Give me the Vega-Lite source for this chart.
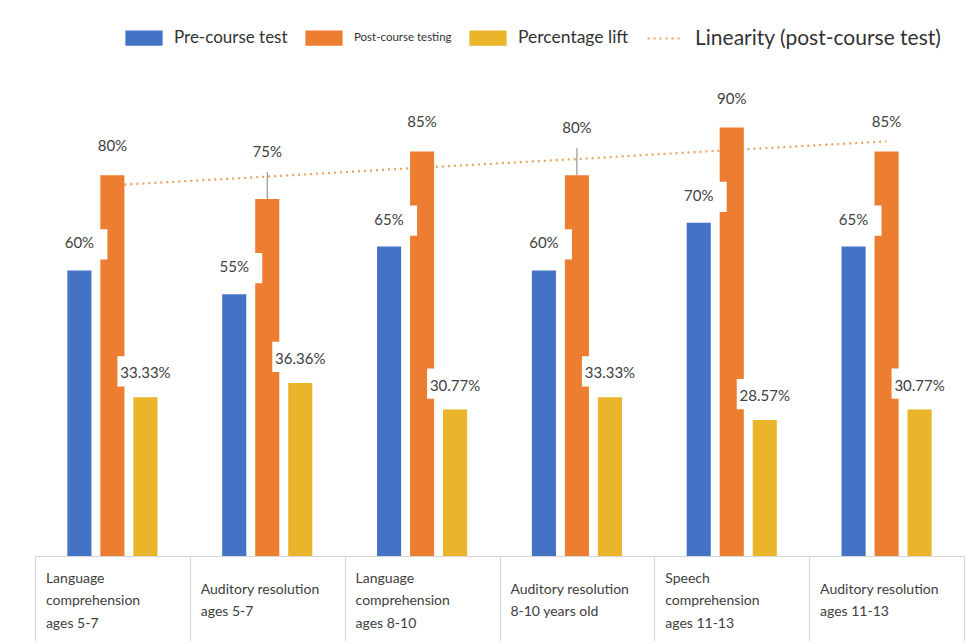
{
  "$schema": "https://vega.github.io/schema/vega-lite/v6.json",
  "width": 929,
  "height": 476,
  "autosize": {"type": "none"},
  "padding": {"left": 35, "top": 80, "right": 9, "bottom": 85},
  "background": "white",
  "config": {"view": {"stroke": null}, "font": "Lato"},
  "data": {
    "values": [
      {"group": "Language comprehension ages 5-7", "series": "Pre-course test", "value": 60, "label": "60%"},
      {"group": "Language comprehension ages 5-7", "series": "Post-course testing", "value": 80, "label": "80%"},
      {"group": "Language comprehension ages 5-7", "series": "Percentage lift", "value": 33.33, "label": "33.33%"},
      {"group": "Auditory resolution ages 5-7", "series": "Pre-course test", "value": 55, "label": "55%"},
      {"group": "Auditory resolution ages 5-7", "series": "Post-course testing", "value": 75, "label": "75%"},
      {"group": "Auditory resolution ages 5-7", "series": "Percentage lift", "value": 36.36, "label": "36.36%"},
      {"group": "Language comprehension ages 8-10", "series": "Pre-course test", "value": 65, "label": "65%"},
      {"group": "Language comprehension ages 8-10", "series": "Post-course testing", "value": 85, "label": "85%"},
      {"group": "Language comprehension ages 8-10", "series": "Percentage lift", "value": 30.77, "label": "30.77%"},
      {"group": "Auditory resolution 8-10 years old", "series": "Pre-course test", "value": 60, "label": "60%"},
      {"group": "Auditory resolution 8-10 years old", "series": "Post-course testing", "value": 80, "label": "80%"},
      {"group": "Auditory resolution 8-10 years old", "series": "Percentage lift", "value": 33.33, "label": "33.33%"},
      {"group": "Speech comprehension ages 11-13", "series": "Pre-course test", "value": 70, "label": "70%"},
      {"group": "Speech comprehension ages 11-13", "series": "Post-course testing", "value": 90, "label": "90%"},
      {"group": "Speech comprehension ages 11-13", "series": "Percentage lift", "value": 28.57, "label": "28.57%"},
      {"group": "Auditory resolution ages 11-13", "series": "Pre-course test", "value": 65, "label": "65%"},
      {"group": "Auditory resolution ages 11-13", "series": "Post-course testing", "value": 85, "label": "85%"},
      {"group": "Auditory resolution ages 11-13", "series": "Percentage lift", "value": 30.77, "label": "30.77%"}
    ]
  },
  "encoding": {
    "x": {
      "field": "group",
      "type": "nominal",
      "sort": null,
      "scale": {"paddingInner": 0, "paddingOuter": 0},
      "axis": {
        "title": null,
        "grid": false,
        "domainColor": "#D4D4D4",
        "tickColor": "#D4D4D4",
        "tickSize": 85,
        "tickBand": "extent",
        "labelAngle": 0,
        "labelAlign": "left",
        "labelBaseline": {"condition": {"test": "datum.value == 'Language comprehension ages 5-7' || datum.value == 'Language comprehension ages 8-10' || datum.value == 'Speech comprehension ages 11-13'", "value": "middle"}, "value": "line-top"},
        "labelOffset": -67,
        "labelPadding": -63,
        "labelFont": "Lato",
        "labelFontSize": 14,
        "labelLineHeight": 22.5,
        "labelColor": "#404040",
        "labelLimit": 0,
        "labelExpr": "split(replace(replace(replace(replace(datum.label, 'Language ', 'Language|'), 'Speech ', 'Speech|'), 'comprehension ', 'comprehension|'), 'resolution ', 'resolution|'), '|')"
      }
    },
    "xOffset": {
      "field": "series",
      "type": "nominal",
      "sort": ["Pre-course test", "Post-course testing", "Percentage lift"],
      "scale": {"paddingInner": 0.27, "paddingOuter": 0.98}
    },
    "y": {
      "field": "value",
      "type": "quantitative",
      "scale": {"domain": [0, 100]},
      "axis": null
    }
  },
  "layer": [
    {
      "data": {
        "values": [
          {"group": "Language comprehension ages 5-7", "series": "Post-course testing", "trend": 77.9},
          {"group": "Auditory resolution ages 5-7", "series": "Post-course testing", "trend": 79.7},
          {"group": "Language comprehension ages 8-10", "series": "Post-course testing", "trend": 81.6},
          {"group": "Auditory resolution 8-10 years old", "series": "Post-course testing", "trend": 83.4},
          {"group": "Speech comprehension ages 11-13", "series": "Post-course testing", "trend": 85.3},
          {"group": "Auditory resolution ages 11-13", "series": "Post-course testing", "trend": 87.1}
        ]
      },
      "mark": {"type": "line", "strokeDash": [2, 4], "strokeWidth": 2.2},
      "encoding": {
        "y": {"field": "trend", "type": "quantitative"},
        "color": {"datum": "Linearity (post-course test)"}
      }
    },
    {
      "mark": {"type": "bar"},
      "encoding": {
        "color": {
          "field": "series",
          "type": "nominal",
          "scale": {
            "domain": ["Pre-course test", "Post-course testing", "Percentage lift", "Linearity (post-course test)"],
            "range": ["#4472C4", "#ED7D31", "#EBB52B", "#E9A25A"]
          },
          "legend": {
            "orient": "none",
            "legendX": 90,
            "legendY": -61,
            "direction": "horizontal",
            "columns": 4,
            "title": null,
            "columnPadding": 14,
            "labelOffset": 11,
            "labelFont": "Lato",
            "labelColor": "#333333",
            "labelFontSize": 17,
            "labelLimit": 0,
            "symbolSize": 1225,
            "encode": {
              "symbols": {
                "update": {
                  "shape": {"signal": "datum.value == 'Linearity (post-course test)' ? 'M-1,0H1' : 'M-1,-0.37H1V0.37H-1Z'"},
                  "fill": {"signal": "datum.value == 'Linearity (post-course test)' ? 'transparent' : scale('color', datum.value)"},
                  "stroke": {"signal": "datum.value == 'Linearity (post-course test)' ? '#E9A25A' : 'transparent'"},
                  "strokeDash": {"signal": "datum.value == 'Linearity (post-course test)' ? [2, 4] : []"},
                  "strokeWidth": {"value": 2.2},
                  "opacity": {"value": 1}
                }
              },
              "labels": {
                "update": {
                  "fontSize": {"signal": "datum.value == 'Post-course testing' ? 11.5 : datum.value == 'Linearity (post-course test)' ? 21 : datum.value == 'Percentage lift' ? 17.5 : 17"}
                }
              }
            }
          }
        }
      }
    },
    {
      "transform": [{"filter": "datum.series != 'Post-course testing'"}],
      "mark": {
        "type": "point",
        "shape": "M-1,-0.54H1V0.54H-1Z",
        "size": 3136,
        "filled": true,
        "color": "white",
        "opacity": 1,
        "strokeWidth": 0,
        "yOffset": -26
      }
    },
    {
      "transform": [{"filter": "datum.series == 'Post-course testing' && (datum.group == 'Auditory resolution ages 5-7' || datum.group == 'Auditory resolution 8-10 years old')"}],
      "mark": {"type": "rule", "color": "#7F7F7F", "strokeWidth": 1, "y2Offset": -27},
      "encoding": {
        "y2": {"field": "value"}
      }
    },
    {
      "mark": {
        "type": "text",
        "baseline": "middle",
        "font": "Lato",
        "fontSize": 15,
        "color": "#404040",
        "dy": {"expr": "datum.series == 'Post-course testing' ? ((datum.group == 'Auditory resolution ages 5-7' || datum.group == 'Auditory resolution 8-10 years old') ? -47 : -29) : datum.series == 'Percentage lift' ? -24 : -27"}
      },
      "encoding": {
        "text": {"field": "label"}
      }
    }
  ]
}
